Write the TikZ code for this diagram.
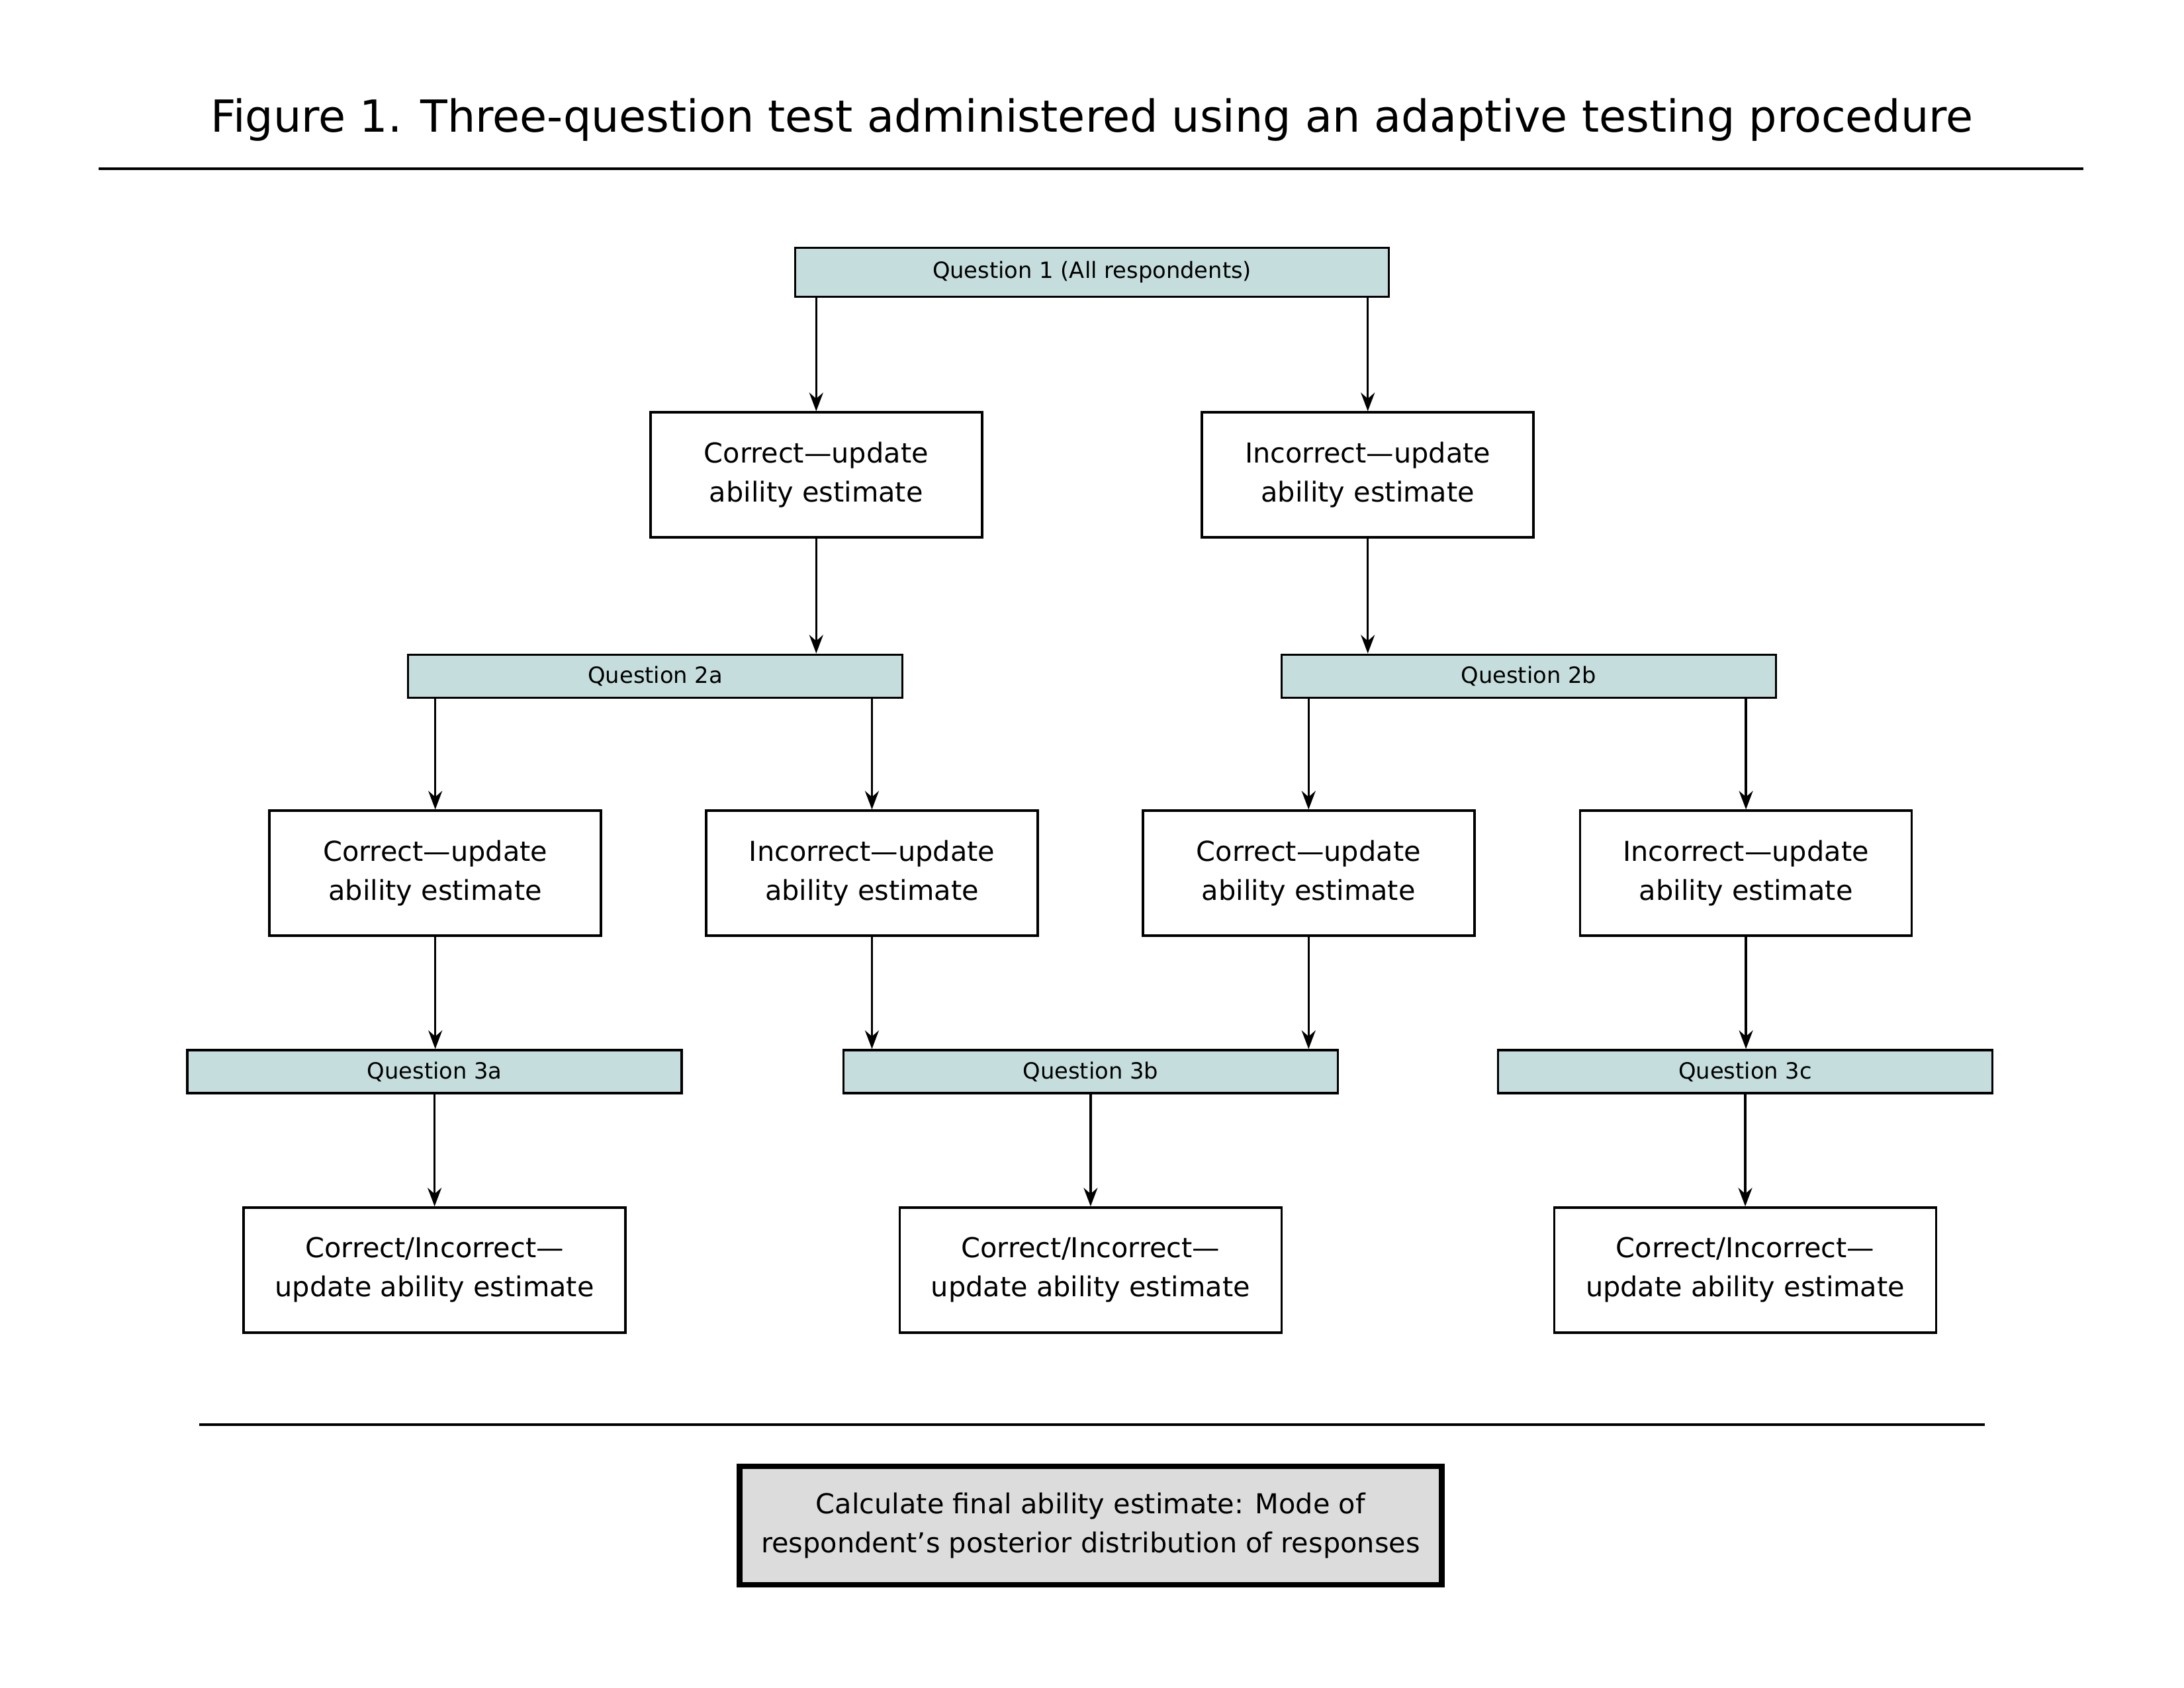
\documentclass[tikz,border=0pt]{standalone}
\usepackage{fontspec}
\setmainfont{DejaVu Sans}
\usepackage{xcolor}
\usetikzlibrary{arrows.meta, positioning}
\definecolor{qfill}{RGB}{197,221,221}
\definecolor{calcfill}{RGB}{220,220,220}

\begin{document}
\begin{tikzpicture}[x=0.21046mm, y=-0.21046mm,
    qbox/.style={draw, line width=1pt, fill=qfill, minimum width=74.7mm, minimum height=6.5mm, inner sep=0pt, font=\fontsize{9.6}{11.5}\selectfont},
    abox/.style={draw, line width=1pt, fill=white, minimum width=50.1mm, minimum height=18.9mm, align=center, inner sep=0pt, font=\fontsize{11.8}{16.8}\selectfont},
    arr/.style={-{Stealth[length=2.8mm, width=2.1mm]}, line width=0.95pt}]
\useasboundingbox (0,0) rectangle (1568,1212);

% title and rules
\node[font=\fontsize{19}{22}\selectfont] (title) at (784,86) {Figure 1. Three-question test administered using an adaptive testing procedure};
\draw[line width=1.1pt] (71,121) coordinate (ruleL) -- (1496,121) coordinate (ruleR);
\draw[line width=1.1pt] (143,1023) coordinate (footL) -- (1425,1023) coordinate (footR);

% question 1
\node[qbox, minimum width=89.7mm, minimum height=7.4mm] (q1) at (784,195.5) {Question 1 (All respondents)};
\node[abox] (c1) at (586,341) {Correct---update\\ability estimate};
\node[abox] (i1) at (982,341) {Incorrect---update\\ability estimate};
\draw[arr] (c1.north |- q1.south) -- (c1.north);
\draw[arr] (i1.north |- q1.south) -- (i1.north);

% question 2
\node[qbox] (q2a) at (470.5,485.5) {Question 2a};
\node[qbox] (q2b) at (1097.5,485.5) {Question 2b};
\draw[arr] (c1.south) -- (c1.south |- q2a.north);
\draw[arr] (i1.south) -- (i1.south |- q2b.north);

\node[abox] (c2a) at (312.5,627) {Correct---update\\ability estimate};
\node[abox] (i2a) at (626,627) {Incorrect---update\\ability estimate};
\node[abox] (c2b) at (939.5,627) {Correct---update\\ability estimate};
\node[abox] (i2b) at (1253.5,627) {Incorrect---update\\ability estimate};
\foreach \a/\q in {c2a/q2a, i2a/q2a, c2b/q2b, i2b/q2b} {
    \draw[arr] (\a.north |- \q.south) -- (\a.north);
}

% question 3
\node[qbox] (q3a) at (312,769.5) {Question 3a};
\node[qbox] (q3b) at (783,769.5) {Question 3b};
\node[qbox] (q3c) at (1253,769.5) {Question 3c};
\foreach \a/\q in {c2a/q3a, i2a/q3b, c2b/q3b, i2b/q3c} {
    \draw[arr] (\a.south) -- (\a.south |- \q.north);
}

\node[abox, minimum width=57.7mm] (f3a) at (312,912) {Correct/Incorrect---\\update ability estimate};
\node[abox, minimum width=57.7mm] (f3b) at (783,912) {Correct/Incorrect---\\update ability estimate};
\node[abox, minimum width=57.7mm] (f3c) at (1253,912) {Correct/Incorrect---\\update ability estimate};
\foreach \q/\f in {q3a/f3a, q3b/f3b, q3c/f3c} {
    \draw[arr] (\q.south) -- (\f.north);
}

% final estimate
\node[abox, fill=calcfill, line width=2.4pt, minimum width=106.1mm, minimum height=17.9mm] (calc) at (783,1095.5) {Calculate final ability estimate: Mode of\\respondent’s posterior distribution of responses};
\end{tikzpicture}
\end{document}
